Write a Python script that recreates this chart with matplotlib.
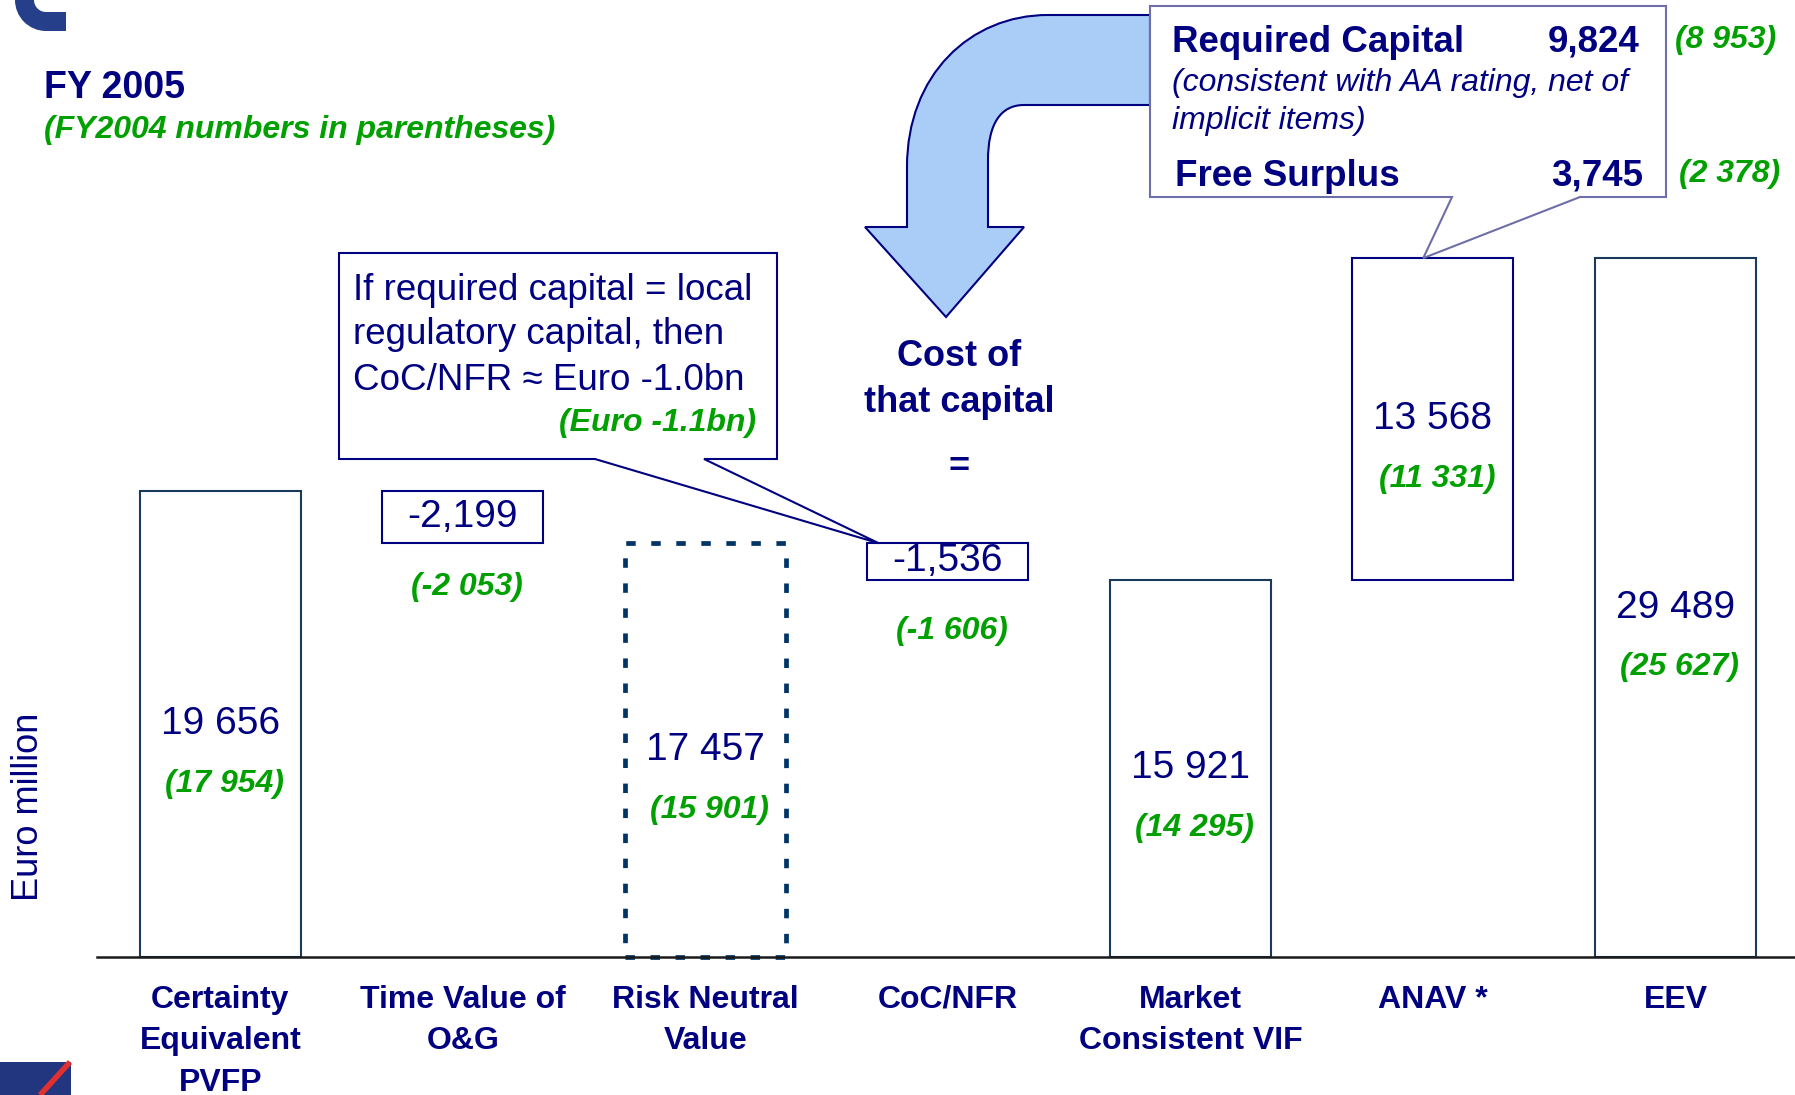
import matplotlib
matplotlib.use("Agg")
import matplotlib.pyplot as plt
from matplotlib.patches import PathPatch, Polygon, Rectangle, Wedge
from matplotlib.path import Path
import numpy as np

plt.rcParams['font.family'] = ['Liberation Sans', 'DejaVu Sans']

NAVY = "#000080"
GREEN = "#00A000"
EDGE = "#1a3a5c"

# data (Euro million), FY2005 with FY2004 in parentheses
categories = ["Certainty\nEquivalent\nPVFP", "Time Value of\nO&G", "Risk Neutral\nValue",
              "CoC/NFR", "Market\nConsistent VIF", "ANAV *", "EEV"]
fy2005 = [19656, -2199, 17457, -1536, 15921, 13568, 29489]
kind = ["total", "step", "total", "step", "total", "step", "total"]
value_labels = ["19 656", "-2,199", "17 457", "-1,536", "15 921", "13 568", "29 489"]
prior_labels = ["(17 954)", "(-2 053)", "(15 901)", "(-1 606)", "(14 295)", "(11 331)", "(25 627)"]

req_capital = ["Required Capital", "9,824", "(8 953)"]
free_surplus = ["Free Surplus", "3,745", "(2 378)"]

# waterfall bottoms / heights
bottoms, heights = [], []
running = 0
for v, k in zip(fy2005, kind):
    if k == "total":
        bottoms.append(0)
        heights.append(v)
        running = v
    else:
        if v < 0:
            bottoms.append(running + v)
            heights.append(-v)
        else:
            bottoms.append(running)
            heights.append(v)
        running += v

W, H = 1795, 1095
fig = plt.figure(figsize=(W / 100, H / 100), dpi=100)

ax = fig.add_axes([97 / W, (H - 957) / H, (W - 97) / W, 711 / H])
x = np.arange(len(categories))
ax.set_xlim(-0.509, 6.493)
ax.set_ylim(0, 30000)

for i in range(len(x)):
    if i == 2:
        ax.bar(x[i], heights[i], bottom=bottoms[i], width=0.664, facecolor="white",
               edgecolor="#003366", linewidth=3.4, linestyle=(0, (2.0, 3.3)), clip_on=False, zorder=2)
    elif kind[i] == "step":
        ax.bar(x[i], heights[i], bottom=bottoms[i], width=0.664, facecolor="white",
               edgecolor=NAVY, linewidth=1.5, clip_on=False, zorder=2)
    else:
        ax.bar(x[i], heights[i], bottom=bottoms[i], width=0.664, facecolor="white",
               edgecolor=EDGE, linewidth=1.5, clip_on=False, zorder=2)

    mid = bottoms[i] + heights[i] / 2
    ax.text(x[i], mid, value_labels[i], ha="center", va="center", fontsize=28, color=NAVY, zorder=3)
    off = -50 if kind[i] == "step" and i != 5 else -43
    ax.annotate(prior_labels[i], xy=(x[i], mid), xytext=(3, off), textcoords="offset points",
                ha="center", va="center", fontsize=23, fontweight="bold", fontstyle="italic",
                color=GREEN, zorder=3)

for s in ["top", "left", "right"]:
    ax.spines[s].set_visible(False)
ax.spines["bottom"].set_color("#1a1a1a")
ax.spines["bottom"].set_linewidth(1.8)
ax.set_yticks([])
ax.set_xticks(x, categories)
ax.tick_params(axis="x", length=0, pad=20)
for lab in ax.get_xticklabels():
    lab.set_fontsize(23)
    lab.set_fontweight("bold")
    lab.set_color(NAVY)
    lab.set_linespacing(1.5)
ax.patch.set_alpha(0)

# overlay in pixel coordinates (y down)
ov = fig.add_axes([0, 0, 1, 1], zorder=5)
ov.set_xlim(0, W)
ov.set_ylim(H, 0)
ov.axis("off")


def to_px(xy):
    return ov.transData.inverted().transform(ax.transData.transform(xy))


# curved arrow
verts = [(1150, 15), (1048, 15),
         (970, 15), (907, 75), (907, 167),
         (907, 227), (865, 227), (946, 317), (1024, 227), (988, 227), (988, 160),
         (988, 125), (1000, 105), (1024, 105),
         (1150, 105), (1150, 15)]
codes = [Path.MOVETO, Path.LINETO,
         Path.CURVE4, Path.CURVE4, Path.CURVE4,
         Path.LINETO, Path.LINETO, Path.LINETO, Path.LINETO, Path.LINETO, Path.LINETO,
         Path.CURVE4, Path.CURVE4, Path.CURVE4,
         Path.LINETO, Path.CLOSEPOLY]
ov.add_patch(PathPatch(Path(verts, codes), facecolor="#aacdf8", edgecolor=NAVY, linewidth=1.5, zorder=1))

# callout: required capital / free surplus -> ANAV
tip1 = to_px((5 - 0.04, fy2005[6]))
ov.add_patch(Polygon([(1150, 6), (1666, 6), (1666, 197), (1580, 197), tuple(tip1), (1452, 197), (1150, 197)],
                     closed=True, facecolor="white", edgecolor="#6e6ea8", linewidth=1.5, zorder=2))
ov.text(1172, 42, req_capital[0], fontsize=26.5, fontweight="bold", color=NAVY, va="center", zorder=3)
ov.text(1640, 42, req_capital[1], fontsize=26.5, fontweight="bold", color=NAVY, va="center", ha="right", zorder=3)
ov.text(1675, 40, req_capital[2], fontsize=23, fontweight="bold", fontstyle="italic", color=GREEN, va="center", zorder=3)
ov.text(1172, 83, "(consistent with AA rating, net of", fontsize=23, fontstyle="italic", color=NAVY, va="center", zorder=3)
ov.text(1172, 121, "implicit items)", fontsize=23, fontstyle="italic", color=NAVY, va="center", zorder=3)
ov.text(1175, 176, free_surplus[0], fontsize=26.5, fontweight="bold", color=NAVY, va="center", zorder=3)
ov.text(1643, 176, free_surplus[1], fontsize=26.5, fontweight="bold", color=NAVY, va="center", ha="right", zorder=3)
ov.text(1679, 174, free_surplus[2], fontsize=23, fontweight="bold", fontstyle="italic", color=GREEN, va="center", zorder=3)

# callout: local regulatory capital -> CoC/NFR
tip2 = to_px((3 - 0.285, bottoms[3] + heights[3]))
ov.add_patch(Polygon([(339, 253), (777, 253), (777, 459), (704, 459), tuple(tip2), (595, 459), (339, 459)],
                     closed=True, facecolor="white", edgecolor=NAVY, linewidth=1.5, zorder=2))
ov.text(353, 290, "If required capital = local", fontsize=26.5, color=NAVY, va="center", zorder=3)
ov.text(353, 335, "regulatory capital, then", fontsize=26.5, color=NAVY, va="center", zorder=3)
ov.text(353, 380, "CoC/NFR \u2248 Euro -1.0bn", fontsize=26.5, color=NAVY, va="center", zorder=3)
ov.text(756, 423, "(Euro -1.1bn)", fontsize=23, fontweight="bold", fontstyle="italic", color=GREEN,
        va="center", ha="right", zorder=3)

ov.text(959, 356, "Cost of", fontsize=26, fontweight="bold", color=NAVY, ha="center", va="center")
ov.text(959, 402, "that capital", fontsize=26, fontweight="bold", color=NAVY, ha="center", va="center")
ov.text(959, 467, "=", fontsize=26, fontweight="bold", color=NAVY, ha="center", va="center")

# titles
ov.text(44, 88, "FY 2005", fontsize=27, fontweight="bold", color=NAVY, va="center")
ov.text(44, 130, "(FY2004 numbers in parentheses)", fontsize=23, fontweight="bold", fontstyle="italic",
        color=GREEN, va="center")
ov.text(29, 807, "Euro million", fontsize=26, color=NAVY, rotation=90, ha="center", va="center")

# logo fragments
ov.add_patch(Wedge((46, 0), 31, 90, 180, width=19, facecolor="#263f8a", edgecolor="none"))
ov.add_patch(Rectangle((46, 12), 20, 19, facecolor="#263f8a", edgecolor="none"))
ov.add_patch(Rectangle((0, 1062), 71, 33, facecolor="#22357f", edgecolor="none"))
ov.plot([70, 40], [1062, 1095], color="#e03030", linewidth=4, solid_capstyle="butt")

fig.savefig("out.png", dpi=100)
